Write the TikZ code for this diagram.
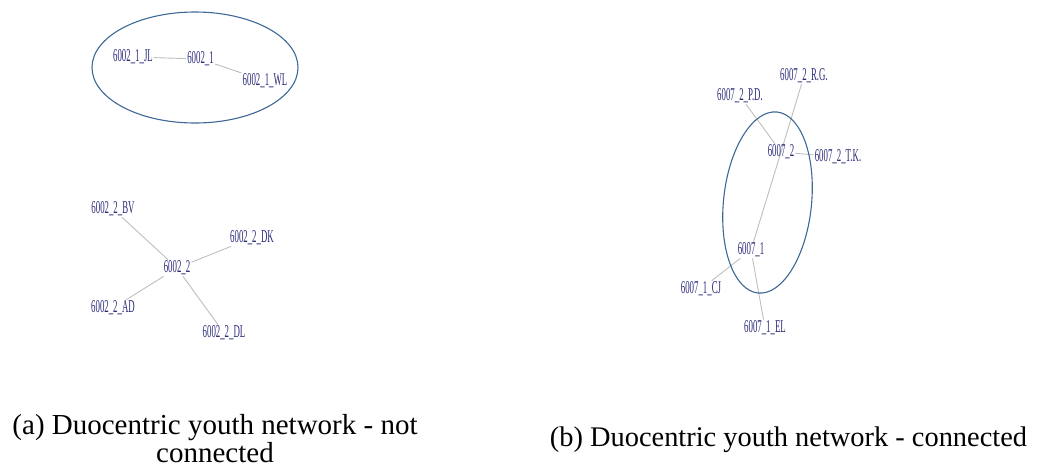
\documentclass[tikz,border=0pt]{standalone}
\usepackage{fontspec}
\setmainfont{Liberation Serif}
\newfontfamily\labfont[FakeStretch=0.49]{Liberation Serif}
\usetikzlibrary{backgrounds}
\definecolor{labcol}{RGB}{42,42,120}
\definecolor{ringcol}{RGB}{62,104,150}
\definecolor{edgecol}{RGB}{190,190,190}
\tikzset{
  person/.style={text=labcol, font=\fontsize{18}{18}\selectfont\labfont, inner sep=1pt},
  tie/.style={draw=edgecol, line width=0.9pt},
  ring/.style={draw=ringcol, line width=1.1pt},
  caption/.style={font=\fontsize{29}{28}\selectfont, align=center, text=black, inner sep=0pt, anchor=base}
}
\begin{document}
\begin{tikzpicture}[x=1pt,y=-1pt]
\useasboundingbox (0,0) rectangle (1038,467);

% (a) first household
\node[person] (a1) at (200.5,59) {6002\_1};
\node[person] (a1jl) at (133,57) {6002\_1\_JL};
\node[person] (a1wl) at (265,81) {6002\_1\_WL};
\draw[tie] (a1jl) -- (a1);
\draw[tie] (a1) -- (a1wl);
\draw[ring] (195,67.5) ellipse [x radius=103, y radius=55.5];

% (a) second household
\node[person] (a2) at (177,268) {6002\_2};
\node[person] (a2bv) at (113,209) {6002\_2\_BV};
\node[person] (a2dk) at (252,238) {6002\_2\_DK};
\node[person] (a2ad) at (113,308) {6002\_2\_AD};
\node[person] (a2dl) at (224,333) {6002\_2\_DL};
\draw[tie] (a2bv) -- (a2);
\draw[tie] (a2dk) -- (a2);
\draw[tie] (a2ad) -- (a2);
\draw[tie] (a2dl) -- (a2);

% (b) connected households
\node[person] (b2) at (781,152) {6007\_2};
\node[person] (b2rg) at (804,76) {6007\_2\_R.G.};
\node[person] (b2pd) at (740,96) {6007\_2\_P.D.};
\node[person] (b2tk) at (838,157) {6007\_2\_T.K.};
\node[person] (b1) at (751,250) {6007\_1};
\node[person] (b1cj) at (701,289) {6007\_1\_CJ};
\node[person] (b1el) at (765,328) {6007\_1\_EL};
\begin{scope}[on background layer]
  \draw[tie] (b2rg) -- (b2.center) -- (b1);
\end{scope}
\draw[tie] (b2pd) -- (b2);
\draw[tie] (b2) -- (b2tk);
\draw[tie] (b1cj) -- (b1);
\draw[tie] (b1) -- (b1el);
\draw[ring] (767.5,202.5) ellipse [x radius=44, y radius=91, rotate=-6];

% captions (base anchor sits on the last line)
\node[caption] (capa) at (215,462) {(a) Duocentric youth network - not\\connected};
\node[caption, font=\fontsize{28.4}{28}\selectfont] (capb) at (788.5,446) {(b) Duocentric youth network - connected};
\end{tikzpicture}
\end{document}
